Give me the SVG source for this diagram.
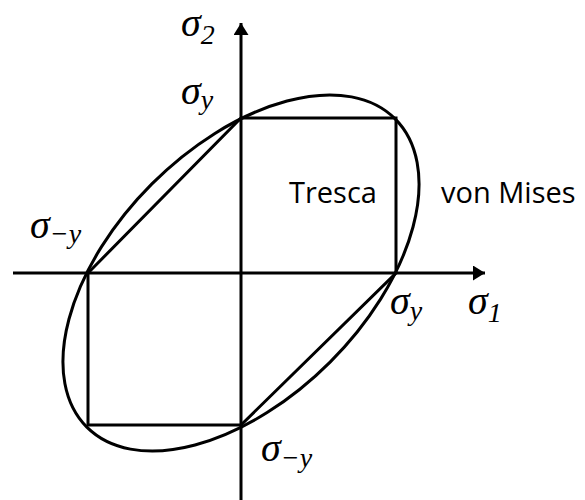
<svg xmlns="http://www.w3.org/2000/svg" width="585" height="500" viewBox="0 0 585 500">
<style>
.ln{fill:none;stroke:#000;stroke-width:3}
.m{font-family:"Liberation Serif","DejaVu Serif",serif;font-style:italic;fill:#000}
.s{font-size:40px}
.sub{font-size:28px}
.lab{font-family:"Open Sans","Noto Sans",sans-serif;font-size:29px;fill:#000}
</style>
<defs>
<marker id="ah" viewBox="0 0 12 15" refX="12" refY="7.5" markerWidth="12" markerHeight="15" markerUnits="userSpaceOnUse" orient="auto">
<path d="M0,0 L12,7.5 L0,15 Z" fill="#000"/>
</marker>
</defs>
<rect width="585" height="500" fill="#fff"/>
<g id="connectors">
<line class="ln" x1="13" y1="273" x2="485" y2="273" marker-end="url(#ah)"/>
<line class="ln" x1="241" y1="500" x2="241" y2="23" marker-end="url(#ah)"/>
</g>
<g id="tresca">
<path class="ln" d="M241,118 L396,118 L396,273 L241,425 L88,425 L88,273 Z"/>
<text class="lab" x="289" y="203">Tresca</text>
</g>
<g id="vonmises">
<ellipse class="ln" cx="241" cy="273" rx="218" ry="126" transform="rotate(-45 241 273)"/>
<text class="lab" x="441" y="203">von Mises</text>
</g>
<g id="labels">
<text class="m s" x="181" y="36">σ<tspan class="sub" dy="8">2</tspan></text>
<text class="m s" x="181" y="104">σ<tspan class="sub" dy="5">y</tspan></text>
<text class="m s" x="30" y="238">σ<tspan class="sub" dy="5">−y</tspan></text>
<text class="m s" x="390" y="314">σ<tspan class="sub" dy="6">y</tspan></text>
<text class="m s" x="468" y="314">σ<tspan class="sub" dy="8">1</tspan></text>
<text class="m s" x="261" y="461">σ<tspan class="sub" dy="6">−y</tspan></text>
</g>
</svg>
